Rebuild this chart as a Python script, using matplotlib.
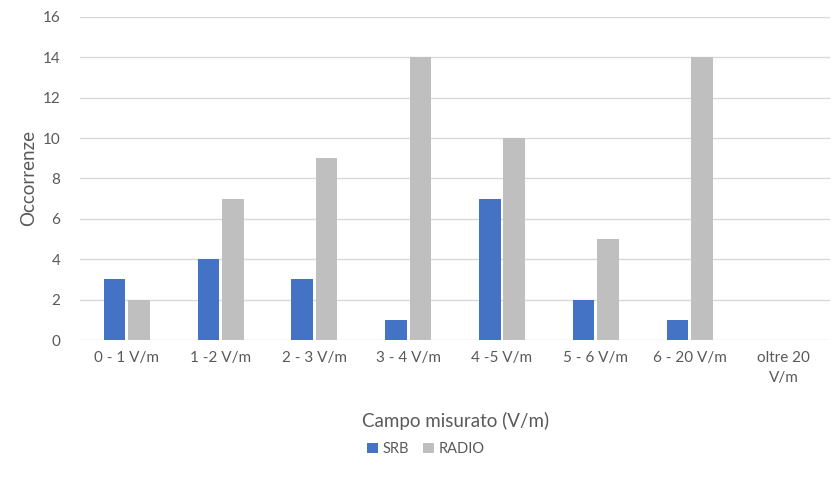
import numpy as np
import matplotlib.pyplot as plt

plt.rcParams['font.family'] = ['Lato', 'DejaVu Sans']

categories = ["0 - 1 V/m", "1 -2 V/m", "2 - 3 V/m", "3 - 4 V/m", "4 -5 V/m",
              "5 - 6 V/m", "6 - 20 V/m", "oltre 20\nV/m"]
srb = [3, 4, 3, 1, 7, 2, 1, 0]
radio = [2, 7, 9, 14, 10, 5, 14, 0]

txt = "#595959"
x = np.arange(len(categories))
w = 0.23

fig = plt.figure(figsize=(8.32, 4.83), dpi=100)
ax = fig.add_axes([0.096, 0.296, 0.902, 0.669])

ax.bar(x - 0.13, srb, w, color="#4472c4", label="SRB", zorder=3)
ax.bar(x + 0.13, radio, w, color="#bfbfbf", label="RADIO", zorder=3)

ax.set_xlim(-0.5, len(categories) - 0.5)
ax.set_ylim(0, 16)
ax.set_yticks(range(0, 17, 2))
ax.set_xticks(x)
ax.set_xticklabels(categories, fontsize=11, color=txt, linespacing=1.5)
ax.tick_params(axis="y", labelsize=11, colors=txt, length=0, pad=14)
ax.tick_params(axis="x", length=0, pad=8)
ax.grid(axis="y", color="#d9d9d9", linewidth=1, zorder=0)
for s in ax.spines.values():
    s.set_visible(False)

ax.set_ylabel("Occorrenze", fontsize=13.5, color=txt, labelpad=4)
ax.set_xlabel("Campo misurato (V/m)", fontsize=13.5, color=txt, labelpad=20)

fig.legend(loc="center", bbox_to_anchor=(0.512, 0.07), ncol=2, frameon=False,
           fontsize=10.5, labelcolor=txt, handlelength=0.75, handleheight=0.75,
           handletextpad=0.3, columnspacing=1.0)

fig.savefig("out.png", dpi=100)
